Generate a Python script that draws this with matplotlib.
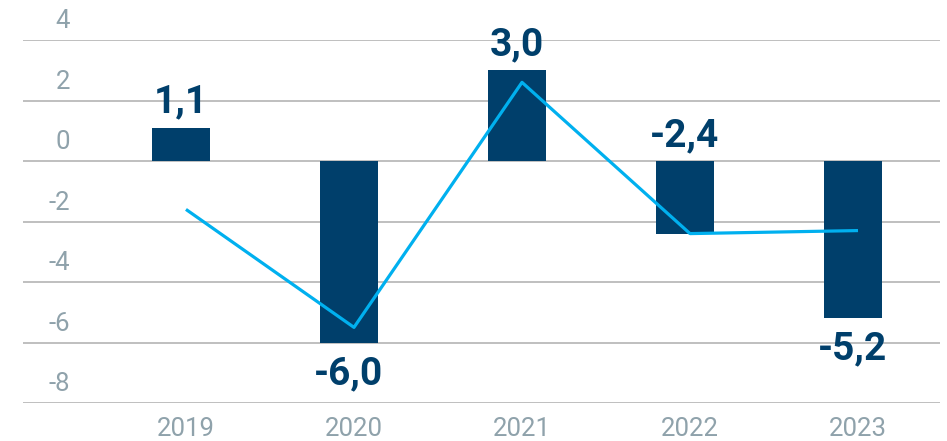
import numpy as np
import matplotlib
matplotlib.use("Agg")
import matplotlib.pyplot as plt

plt.rcParams['font.family'] = ['Roboto', 'DejaVu Sans']

anios = ['2019', '2020', '2021', '2022', '2023']
barras = [1.1, -6.0, 3.0, -2.4, -5.2]
linea = [-1.6, -5.5, 2.6, -2.4, -2.3]
etiquetas = ['1,1', '-6,0', '3,0', '-2,4', '-5,2']
yticks = [4, 2, 0, -2, -4, -6, -8]

azul_osc = '#003f6b'
celeste = '#00b0ef'
gris_txt = '#8fa2ab'

fig = plt.figure(figsize=(9.47, 4.41), dpi=100)
ax = fig.add_axes([23/947, 1-403/441, 917/947, 363/441])

x = np.arange(len(anios))
ax.bar(x, barras, width=0.35, color=azul_osc, zorder=2)
ax.plot(x + 0.03, linea, color=celeste, lw=2.3, zorder=3, solid_capstyle='butt')

# etiquetas de valor (arriba o abajo de la barra)
for i, v in enumerate(barras):
    if v > 0:
        ax.annotate(etiquetas[i], (x[i], v), xytext=(0, 5), textcoords='offset points',
                    ha='center', va='bottom', fontsize=28, fontweight='bold', color=azul_osc)
    elif i == 3:
        ax.annotate(etiquetas[i], (x[i], 0), xytext=(0, 5), textcoords='offset points',
                    ha='center', va='bottom', fontsize=28, fontweight='bold', color=azul_osc)
    else:
        ax.annotate(etiquetas[i], (x[i], v), xytext=(0, -9), textcoords='offset points',
                    ha='center', va='top', fontsize=28, fontweight='bold', color=azul_osc)

ax.set_xlim(-0.94, 4.518)
ax.set_ylim(-8, 4)
ax.set_yticks(yticks)
ax.yaxis.grid(True, color='#b4b4b4', lw=1.2, zorder=0)
ax.tick_params(axis='y', length=0, labelleft=False)
for t in yticks:
    ax.text(0.0513, t + 0.62, str(t), transform=ax.get_yaxis_transform(),
            ha='right', va='center', fontsize=18.5, color=gris_txt)

ax.set_xticks(x + 0.03)
ax.set_xticklabels(anios, fontsize=18.5, color=gris_txt)
ax.tick_params(axis='x', length=0, pad=10)

for s in ax.spines.values():
    s.set_visible(False)

fig.savefig('out.png', dpi=100)
